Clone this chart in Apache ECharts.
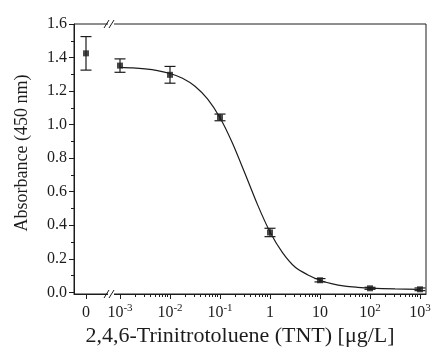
<!DOCTYPE html>
<html>
<head>
<meta charset="utf-8">
<script src="https://cdn.jsdelivr.net/npm/echarts@6/dist/echarts.min.js"></script>
<style>
  html, body { margin: 0; background: #fff; }
  #chart { width: 433px; height: 347px; }
</style>
</head>
<body>
<div id="chart"></div>
<script>
// TNT concentration in ug/L (0 = blank, drawn left of the axis break)
const conc = [0, 0.001, 0.01, 0.1, 1, 10, 100, 1000];
const absorbance = [1.425, 1.352, 1.297, 1.043, 0.357, 0.072, 0.024, 0.018];
const errBar = [0.10, 0.04, 0.05, 0.02, 0.025, 0.01, 0.006, 0.008];

// fitted sigmoid: log10(conc) -> absorbance
const fitLogX = [-3, -2.75, -2.5, -2.25, -2, -1.75, -1.5, -1.25, -1, -0.75, -0.5, -0.25,
                 0, 0.25, 0.5, 0.75, 1, 1.25, 1.5, 1.75, 2, 2.5, 3];
const fitY = [1.341, 1.338, 1.332, 1.322, 1.305, 1.277, 1.229, 1.153, 1.041, 0.889, 0.708, 0.523,
              0.360, 0.237, 0.151, 0.105, 0.072, 0.050, 0.037, 0.030, 0.025, 0.020, 0.018];

// axis ticks
const ZERO_POS = -3.68;   // where the "0" sample sits on the broken log axis
const BREAK_POS = -3.18;
const xTickPos = [ZERO_POS, -3, -2, -1, 0, 1, 2, 3];
const xTickLabels = ['0', '10{sup|-3}', '10{sup|-2}', '10{sup|-1}', '1', '10', '10{sup|2}', '10{sup|3}'];
const yTicks = [0, 0.2, 0.4, 0.6, 0.8, 1.0, 1.2, 1.4, 1.6];
const yMinorTicks = [0.1, 0.3, 0.5, 0.7, 0.9, 1.1, 1.3, 1.5];

const X_MIN = -3.92, X_MAX = 3.12, Y_MIN = -0.01, Y_MAX = 1.6;
const INK = '#1c1c1c';
const FONT = '"Liberation Serif", "Times New Roman", serif';

const pos = c => (c === 0 ? ZERO_POS : Math.log10(c));

// log minor ticks (2..9 of every decade)
const xMinorTicks = [];
for (let d = -3; d < 3; d++) {
  for (let k = 2; k <= 9; k++) xMinorTicks.push(d + Math.log10(k));
}

const chart = echarts.init(document.getElementById('chart'), null, { renderer: 'canvas' });

const option = {
  animation: false,
  backgroundColor: '#fff',
  grid: {
    left: 74, right: 7, top: 24, bottom: 53,
    containLabel: false,
    outerBoundsMode: 'none',
    show: true, borderColor: INK, borderWidth: 1, backgroundColor: 'transparent'
  },
  xAxis: [
    {
      type: 'value', min: X_MIN, max: X_MAX, position: 'bottom',
      splitLine: { show: false },
      axisLine: { show: true, onZero: false, lineStyle: { color: INK, width: 1 } },
      axisTick: { show: true, inside: false, length: 5, customValues: xTickPos, lineStyle: { color: INK } },
      axisLabel: {
        customValues: xTickPos,
        margin: 9,
        color: INK, fontFamily: FONT, fontSize: 16, lineHeight: 20,
        formatter: v => {
          const i = xTickPos.indexOf(v);
          return i >= 0 ? xTickLabels[i] : '';
        },
        rich: {
          sup: { fontFamily: FONT, fontSize: 11, color: INK, verticalAlign: 'top', lineHeight: 20, padding: [0, 0, 7, 0] }
        }
      },
      name: '2,4,6-Trinitrotoluene (TNT) [\u03bcg/L]',
      nameLocation: 'middle',
      nameGap: 31,
      nameMoveOverlap: false,
      nameTextStyle: { color: INK, fontFamily: FONT, fontSize: 22, padding: [0, 20, 0, 0] }
    },
    {
      type: 'value', min: X_MIN, max: X_MAX, position: 'bottom',
      splitLine: { show: false },
      axisLine: { show: false, onZero: false },
      axisLabel: { show: false },
      axisTick: { show: true, inside: false, length: 3, customValues: xMinorTicks, lineStyle: { color: INK } }
    }
  ],
  yAxis: [
    {
      type: 'value', min: Y_MIN, max: Y_MAX, position: 'left',
      splitLine: { show: false },
      axisLine: { show: true, onZero: false, lineStyle: { color: INK, width: 1 } },
      axisTick: { show: true, inside: false, length: 5, customValues: yTicks, lineStyle: { color: INK } },
      axisLabel: {
        customValues: yTicks,
        margin: 7,
        color: INK, fontFamily: FONT, fontSize: 16,
        formatter: v => v.toFixed(1)
      },
      name: 'Absorbance (450 nm)',
      nameLocation: 'middle',
      nameGap: 43,
      nameMoveOverlap: false,
      nameTextStyle: { color: INK, fontFamily: FONT, fontSize: 18, padding: [0, 0, 0, 12] }
    },
    {
      type: 'value', min: Y_MIN, max: Y_MAX, position: 'left',
      splitLine: { show: false },
      axisLine: { show: false, onZero: false },
      axisLabel: { show: false },
      axisTick: { show: true, inside: false, length: 3, customValues: yMinorTicks, lineStyle: { color: INK } }
    }
  ],
  series: [
    {
      name: 'fit',
      type: 'line',
      data: fitLogX.map((x, i) => [x, fitY[i]]),
      smooth: 0.3,
      showSymbol: false,
      lineStyle: { color: INK, width: 1.2 },
      z: 3
    },
    {
      name: 'error',
      type: 'custom',
      data: conc.map((c, i) => [pos(c), absorbance[i] - errBar[i], absorbance[i] + errBar[i]]),
      renderItem: (params, api) => {
        const lo = api.coord([api.value(0), api.value(1)]);
        const hi = api.coord([api.value(0), api.value(2)]);
        const hw = 5.5;
        const st = { stroke: INK, lineWidth: 1.2 };
        return {
          type: 'group',
          children: [
            { type: 'line', shape: { x1: lo[0], y1: lo[1], x2: hi[0], y2: hi[1] }, style: st },
            { type: 'line', shape: { x1: lo[0] - hw, y1: lo[1], x2: lo[0] + hw, y2: lo[1] }, style: st },
            { type: 'line', shape: { x1: hi[0] - hw, y1: hi[1], x2: hi[0] + hw, y2: hi[1] }, style: st }
          ]
        };
      },
      z: 4
    },
    {
      name: 'absorbance',
      type: 'scatter',
      data: conc.map((c, i) => [pos(c), absorbance[i]]),
      symbol: 'rect',
      symbolSize: 6,
      itemStyle: { color: INK },
      z: 5
    },
    {
      // "//" axis break marks on the top and bottom frame lines
      name: 'break',
      type: 'custom',
      clip: false,
      silent: true,
      data: [[BREAK_POS, Y_MAX], [BREAK_POS, Y_MIN]],
      renderItem: (params, api) => {
        const p = api.coord([api.value(0), api.value(1)]);
        const st = { stroke: INK, lineWidth: 1 };
        return {
          type: 'group',
          children: [
            { type: 'rect', shape: { x: p[0] - 3, y: p[1] - 2, width: 6, height: 4 }, style: { fill: '#fff' } },
            { type: 'line', shape: { x1: p[0] - 7, y1: p[1] + 4, x2: p[0] - 2, y2: p[1] - 4 }, style: st },
            { type: 'line', shape: { x1: p[0] - 2, y1: p[1] + 4, x2: p[0] + 3, y2: p[1] - 4 }, style: st }
          ]
        };
      },
      z: 10
    }
  ]
};

chart.setOption(option);
</script>
</body>
</html>
